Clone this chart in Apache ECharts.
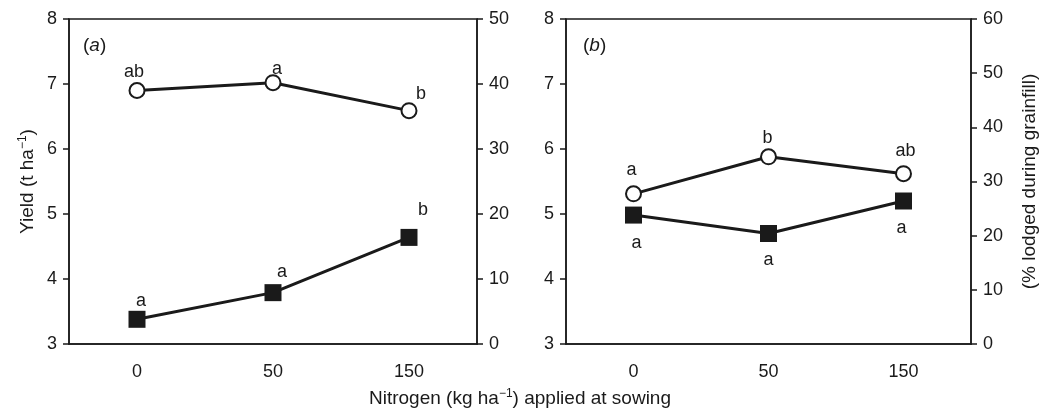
<!DOCTYPE html>
<html>
<head>
<meta charset="utf-8">
<script src="https://cdn.jsdelivr.net/npm/echarts@6/dist/echarts.min.js"></script>
<style>
  html, body { margin: 0; padding: 0; background: #fff; }
  #echarts { width: 1040px; height: 415px; }
</style>
</head>
<body>
<div id="echarts"></div>
<script>
// categories: N applied at sowing (kg/ha)
var nitrogen = ['0', '50', '150'];

// panel (a)
var yieldA = [6.90, 7.02, 6.59];
var lodgedA = [3.8, 7.9, 16.4];
var yieldLettersA = ['ab', 'a', 'b'];
var lodgedLettersA = ['a', 'a', 'b'];

// panel (b)
var yieldB = [5.31, 5.88, 5.62];
var lodgedB = [23.8, 20.4, 26.4];
var yieldLettersB = ['a', 'b', 'ab'];
var lodgedLettersB = ['a', 'a', 'a'];

var yieldTicks = [3, 8, 1];
var lodgedTicksA = [0, 50, 10];
var lodgedTicksB = [0, 60, 10];

var font = '"Liberation Sans", Arial, sans-serif';
var ink = '#1a1a1a';

function withLetters(values, letters, offsets) {
    return values.map(function (v, i) {
        return {
            value: v,
            label: { show: true, formatter: letters[i], position: 'inside', offset: offsets[i] }
        };
    });
}

function lineSeries(x, y, data, symbol) {
    var open = symbol === 'circle';
    return {
        type: 'line',
        xAxisIndex: x,
        yAxisIndex: y,
        data: data,
        symbol: symbol,
        symbolSize: open ? 15 : 17,
        showAllSymbol: true,
        lineStyle: { color: ink, width: 3 },
        itemStyle: {
            color: open ? '#fff' : ink,
            borderColor: ink,
            borderWidth: open ? 2 : 0
        },
        label: { color: ink, fontSize: 18, fontFamily: font },
        emphasis: { disabled: true },
        z: open ? 3 : 2
    };
}

function xAxis(grid) {
    return {
        type: 'category',
        gridIndex: grid,
        data: nitrogen,
        boundaryGap: true,
        axisLine: { lineStyle: { color: ink, width: 1.5 } },
        axisTick: { length: 6, lineStyle: { color: ink, width: 1.5 } },
        axisLabel: { color: ink, fontSize: 18, fontFamily: font, margin: 19 }
    };
}

function yAxis(grid, ticks, pos, name) {
    return {
        type: 'value',
        gridIndex: grid,
        position: pos,
        min: ticks[0],
        max: ticks[1],
        interval: ticks[2],
        splitLine: { show: false },
        axisLine: { show: true, lineStyle: { color: ink, width: 1.5 } },
        axisTick: { show: true, length: 6, lineStyle: { color: ink, width: 1.5 } },
        axisLabel: { color: ink, fontSize: 18, fontFamily: font, margin: 12 },
        name: name || '',
        nameLocation: 'middle',
        nameGap: pos === 'left' ? 31 : 49,
        nameTextStyle: {
            color: ink, fontSize: 19, fontFamily: font,
            rich: { sup: { fontSize: 12, padding: [0, 0, 9, 0], color: ink, fontFamily: font } }
        }
    };
}

var myChart = echarts.init(document.getElementById('echarts'));
var option = {
    animation: false,
    backgroundColor: '#fff',
    textStyle: { fontFamily: font },
    grid: [
        { left: 69, right: 563, top: 19, bottom: 71, show: true, borderColor: ink, borderWidth: 1.5, backgroundColor: 'transparent' },
        { left: 566, right: 69, top: 19, bottom: 71, show: true, borderColor: ink, borderWidth: 1.5, backgroundColor: 'transparent' }
    ],
    xAxis: [xAxis(0), xAxis(1)],
    yAxis: [
        yAxis(0, yieldTicks, 'left', 'Yield (t ha{sup|−1})'),
        yAxis(0, lodgedTicksA, 'right'),
        yAxis(1, yieldTicks, 'left'),
        yAxis(1, lodgedTicksB, 'right', '(% lodged during grainfill)')
    ],
    graphic: [
        {
            type: 'text', left: 83, top: 36,
            style: {
                text: '({i|a})', fill: ink, font: '19px ' + font,
                rich: { i: { fontStyle: 'italic', fontSize: 19, fontFamily: font, fill: ink } }
            }
        },
        {
            type: 'text', left: 583, top: 36,
            style: {
                text: '({i|b})', fill: ink, font: '19px ' + font,
                rich: { i: { fontStyle: 'italic', fontSize: 19, fontFamily: font, fill: ink } }
            }
        },
        {
            type: 'text', left: 'center', top: 388,
            style: {
                text: 'Nitrogen (kg ha{sup|−1}) applied at sowing', fill: ink, font: '19px ' + font,
                rich: { sup: { fontSize: 12, padding: [0, 0, 9, 0], fontFamily: font, fill: ink } }
            }
        }
    ],
    series: [
        lineSeries(0, 0, withLetters(yieldA, yieldLettersA, [[-3, -18], [4, -14], [12, -17]]), 'circle'),
        lineSeries(0, 1, withLetters(lodgedA, lodgedLettersA, [[4, -18], [9, -21], [14, -27]]), 'rect'),
        lineSeries(1, 2, withLetters(yieldB, yieldLettersB, [[-2, -24], [-1, -19], [2, -23]]), 'circle'),
        lineSeries(1, 3, withLetters(lodgedB, lodgedLettersB, [[3, 28], [0, 27], [-2, 27]]), 'rect')
    ]
};
myChart.setOption(option);
</script>
</body>
</html>
